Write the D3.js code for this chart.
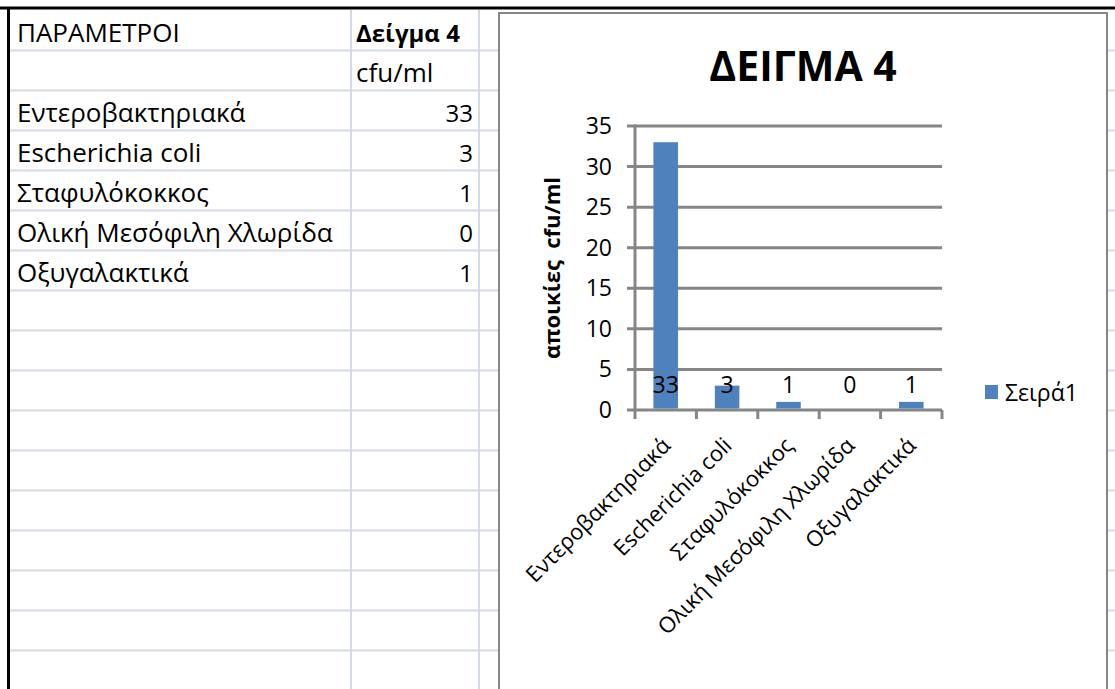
<!DOCTYPE html>
<meta charset='utf-8'>
<style>
body { margin: 0; background: #fff; }
svg { display: block; }
text { font-family: 'Open Sans', sans-serif; fill: #000; }
.grid line { stroke: #d4dbe6; stroke-width: 2px; }
.chart-grid line { stroke: #868686; stroke-width: 3px; }
</style>
<svg id='sheet' width='1115' height='689'></svg>
<script src="https://cdn.jsdelivr.net/npm/d3@7"></script>
<script>

// sheet + chart data
const params = ['Εντεροβακτηριακά', 'Escherichia coli', 'Σταφυλόκοκκος', 'Ολική Μεσόφιλη Χλωρίδα', 'Οξυγαλακτικά'];
const values = [33, 3, 1, 0, 1];
const yTicks = [0, 5, 10, 15, 20, 25, 30, 35];
const headerCol = 'ΠΑΡΑΜΕΤΡΟΙ';
const sampleCol = 'Δείγμα 4';
const unitLabel = 'cfu/ml';
const chartTitle = 'ΔΕΙΓΜΑ 4';
const yTitle = 'αποικίες  cfu/ml';
const seriesName = 'Σειρά1';

const W = 1115, H = 689;
const rowH = 40, firstRow = 10;
const colX = [10, 351, 479];

const svg = d3.select('#sheet');
svg.append('rect').attr('width', W).attr('height', H).attr('fill', '#fff');

// spreadsheet gridlines
const grid = svg.append('g').attr('class', 'grid');
const rowLines = d3.range(firstRow + rowH, H, rowH);
grid.selectAll('line.row').data(rowLines).enter().append('line')
  .attr('x1', 10).attr('x2', W)
  .attr('y1', d => d + 0.5).attr('y2', d => d + 0.5);
grid.selectAll('line.col').data(colX.slice(1)).enter().append('line')
  .attr('x1', d => d).attr('x2', d => d)
  .attr('y1', firstRow).attr('y2', H);

// thick black frame at top and left
svg.append('line').attr('x1', 0).attr('x2', W).attr('y1', 8).attr('y2', 8)
  .attr('stroke', '#000').attr('stroke-width', 3);
svg.append('line').attr('x1', 8.5).attr('x2', 8.5).attr('y1', 7).attr('y2', H)
  .attr('stroke', '#000').attr('stroke-width', 3);

// table cells
const cellFont = 26, numFont = 24;
function baseline(row) { return firstRow + rowH * (row + 1) - 8; }

svg.append('text').attr('x', 17).attr('y', baseline(0))
  .style('font-size', cellFont + 'px').text(headerCol);
svg.append('text').attr('x', 356).attr('y', baseline(0))
  .style('font-size', '24px').style('font-weight', 'bold').text(sampleCol);
svg.append('text').attr('x', 356).attr('y', baseline(1))
  .style('font-size', cellFont + 'px').text(unitLabel);

const rows = svg.append('g').selectAll('g').data(params).enter().append('g');
rows.append('text')
  .attr('x', 17).attr('y', (d, i) => baseline(i + 2))
  .style('font-size', cellFont + 'px')
  .text(d => d);
rows.append('text')
  .attr('x', 473).attr('y', (d, i) => baseline(i + 2))
  .attr('text-anchor', 'end')
  .style('font-size', numFont + 'px')
  .text((d, i) => values[i]);

// chart object
const chart = svg.append('g');
chart.append('rect')
  .attr('x', 499).attr('y', 13).attr('width', 608).attr('height', H)
  .attr('fill', '#fff').attr('stroke', '#868686').attr('stroke-width', 2);

chart.append('text')
  .attr('x', 803).attr('y', 81)
  .attr('text-anchor', 'middle')
  .style('font-size', '41px').style('font-weight', 'bold')
  .text(chartTitle);

const x = d3.scaleBand().domain(params).range([635, 942]).paddingInner(0.6).paddingOuter(0.3);
const y = d3.scaleLinear().domain([0, 35]).range([410, 126]);

// horizontal gridlines (also the y ticks)
chart.append('g').attr('class', 'chart-grid')
  .selectAll('line').data(yTicks).enter().append('line')
  .attr('x1', 627).attr('x2', 942)
  .attr('y1', d => y(d)).attr('y2', d => y(d));

// y axis line
chart.append('line')
  .attr('x1', 635).attr('x2', 635).attr('y1', y(35) - 1.5).attr('y2', y(0))
  .attr('stroke', '#868686').attr('stroke-width', 3);

// x tick marks at category boundaries
const step = x.step();
chart.append('g').selectAll('line').data(d3.range(params.length + 1)).enter().append('line')
  .attr('x1', i => 635 + i * step).attr('x2', i => 635 + i * step)
  .attr('y1', y(0)).attr('y2', y(0) + 9)
  .attr('stroke', '#868686').attr('stroke-width', 3);

chart.append('g').selectAll('text').data(yTicks).enter().append('text')
  .attr('x', 612).attr('y', d => y(d))
  .attr('dy', '0.35em')
  .attr('text-anchor', 'end')
  .style('font-size', '23px')
  .text(d => d);

// bars
chart.append('g').selectAll('rect').data(params).enter().append('rect')
  .attr('x', d => x(d))
  .attr('width', x.bandwidth())
  .attr('y', (d, i) => y(values[i]))
  .attr('height', (d, i) => y(0) - y(values[i]) - 1.5)
  .attr('fill', '#4f81bd');

// data labels at inside base
chart.append('g').selectAll('text').data(params).enter().append('text')
  .attr('x', d => x(d) + x.bandwidth() / 2)
  .attr('y', 385)
  .attr('dy', '0.35em')
  .attr('text-anchor', 'middle')
  .style('font-size', '23px')
  .text((d, i) => values[i]);

// category labels rotated
chart.append('g').selectAll('text').data(params).enter().append('text')
  .attr('transform', d => `translate(${x(d) + x.bandwidth() / 2 + 6},${y(0) + 37}) rotate(-45)`)
  .attr('text-anchor', 'end')
  .style('font-size', '22px')
  .text(d => d);

// y axis title
chart.append('text')
  .attr('transform', `translate(560,268) rotate(-90)`)
  .attr('text-anchor', 'middle')
  .style('font-size', '22px').style('font-weight', 'bold')
  .text(yTitle.replace(/ /g, '\u00a0'));

// legend
chart.append('rect').attr('x', 985).attr('y', 385).attr('width', 13).attr('height', 14)
  .attr('fill', '#4f81bd');
chart.append('text').attr('x', 1005).attr('y', 393).attr('dy', '0.35em')
  .style('font-size', '23px').text(seriesName);

</script>
